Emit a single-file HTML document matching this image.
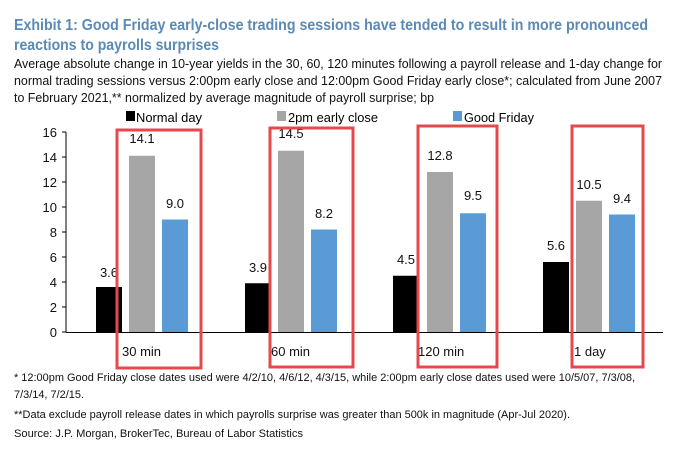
<!DOCTYPE html>
<html><head><style>body{margin:0;background:#fff}svg{display:block}</style></head>
<body>
<svg width="697" height="454" xmlns="http://www.w3.org/2000/svg" font-family="Liberation Sans, sans-serif">
<g fill="#5a8ab5" font-weight="bold" font-size="16">
<text x="14" y="30" textLength="634" lengthAdjust="spacingAndGlyphs">Exhibit 1: Good Friday early-close trading sessions have tended to result in more pronounced</text>
<text x="14" y="50" textLength="205" lengthAdjust="spacingAndGlyphs">reactions to payrolls surprises</text>
</g>
<g fill="#111" font-size="13">
<text x="14" y="68" textLength="648" lengthAdjust="spacingAndGlyphs">Average absolute change in 10-year yields in the 30, 60, 120 minutes following a payroll release and 1-day change for</text>
<text x="14" y="85" textLength="648" lengthAdjust="spacingAndGlyphs">normal trading sessions versus 2:00pm early close and 12:00pm Good Friday early close*; calculated from June 2007</text>
<text x="14" y="102" textLength="420" lengthAdjust="spacingAndGlyphs">to February 2021,** normalized by average magnitude of payroll surprise; bp</text>
</g>
<!-- legend -->
<rect x="126" y="111" width="9" height="10" fill="#000"/>
<text x="136" y="122" font-size="13" textLength="66" lengthAdjust="spacingAndGlyphs">Normal day</text>
<rect x="277" y="111" width="9" height="10" fill="#a6a6a6"/>
<text x="288" y="122" font-size="13" textLength="90" lengthAdjust="spacingAndGlyphs">2pm early close</text>
<rect x="453" y="111" width="9" height="10" fill="#5b9bd5"/>
<text x="464" y="122" font-size="13" textLength="70" lengthAdjust="spacingAndGlyphs">Good Friday</text>
<!-- axis -->
<line x1="66" y1="132" x2="66" y2="332" stroke="#000"/>
<line x1="66" y1="332.5" x2="663" y2="332.5" stroke="#000"/>
<g stroke="#000">
<line x1="62" y1="132" x2="66" y2="132"/><line x1="62" y1="157" x2="66" y2="157"/><line x1="62" y1="182" x2="66" y2="182"/><line x1="62" y1="207" x2="66" y2="207"/><line x1="62" y1="232" x2="66" y2="232"/><line x1="62" y1="257" x2="66" y2="257"/><line x1="62" y1="282" x2="66" y2="282"/><line x1="62" y1="307" x2="66" y2="307"/><line x1="62" y1="332" x2="66" y2="332"/>
</g>
<g font-size="13" text-anchor="end" fill="#111">
<text x="57" y="137">16</text><text x="57" y="162">14</text><text x="57" y="187">12</text><text x="57" y="212">10</text><text x="57" y="237">8</text><text x="57" y="262">6</text><text x="57" y="287">4</text><text x="57" y="312">2</text><text x="57" y="337">0</text>
</g>
<!-- bars: y = 332 - v*12.5 -->
<g>
<rect x="96" y="287" width="26" height="45" fill="#000"/>
<rect x="129" y="155.75" width="26" height="176.25" fill="#a6a6a6"/>
<rect x="162" y="219.5" width="26" height="112.5" fill="#5b9bd5"/>
<rect x="245" y="283.25" width="26" height="48.75" fill="#000"/>
<rect x="278" y="150.75" width="26" height="181.25" fill="#a6a6a6"/>
<rect x="311" y="229.5" width="26" height="102.5" fill="#5b9bd5"/>
<rect x="393" y="275.75" width="26" height="56.25" fill="#000"/>
<rect x="427" y="172" width="26" height="160" fill="#a6a6a6"/>
<rect x="460" y="213.25" width="26" height="118.75" fill="#5b9bd5"/>
<rect x="543" y="262" width="26" height="70" fill="#000"/>
<rect x="576" y="200.75" width="26" height="131.25" fill="#a6a6a6"/>
<rect x="609" y="214.5" width="26" height="117.5" fill="#5b9bd5"/>
</g>
<g font-size="13" text-anchor="middle" fill="#111">
<text x="109" y="277">3.6</text><text x="142" y="143">14.1</text><text x="175" y="208">9.0</text>
<text x="258" y="272">3.9</text><text x="291" y="138">14.5</text><text x="324" y="218">8.2</text>
<text x="406" y="264">4.5</text><text x="440" y="160">12.8</text><text x="473" y="200">9.5</text>
<text x="556" y="250">5.6</text><text x="589" y="189">10.5</text><text x="622" y="203">9.4</text>
</g>
<g font-size="13" fill="#111">
<text x="122" y="356">30 min</text><text x="271" y="356">60 min</text><text x="418" y="356">120 min</text><text x="574" y="356">1 day</text>
</g>
<!-- red boxes -->
<g fill="none" stroke="#e5484d" stroke-width="3">
<rect x="117" y="130" width="84" height="238"/>
<rect x="270" y="128" width="83" height="239"/>
<rect x="418" y="126" width="79" height="241"/>
<rect x="572" y="126" width="71" height="241"/>
</g>
<g font-size="11" fill="#111">
<text x="14" y="381" textLength="621" lengthAdjust="spacingAndGlyphs">* 12:00pm Good Friday close dates used were 4/2/10, 4/6/12, 4/3/15, while 2:00pm early close dates used were 10/5/07, 7/3/08,</text>
<text x="14" y="398" textLength="70" lengthAdjust="spacingAndGlyphs">7/3/14, 7/2/15.</text>
<text x="14" y="418" textLength="556" lengthAdjust="spacingAndGlyphs">**Data exclude payroll release dates in which payrolls surprise was greater than 500k in magnitude (Apr-Jul 2020).</text>
<text x="14" y="437" textLength="289" lengthAdjust="spacingAndGlyphs">Source: J.P. Morgan, BrokerTec, Bureau of Labor Statistics</text>
</g>
</svg>
</body></html>
